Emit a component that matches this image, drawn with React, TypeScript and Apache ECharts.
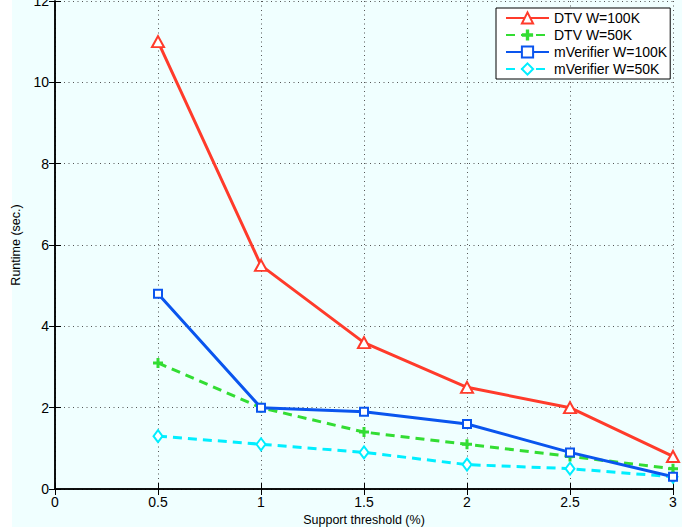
import React, { useEffect, useRef } from 'react';
import * as echarts from 'echarts';

const xValues = [0.5, 1, 1.5, 2, 2.5, 3];
const dtv100 = [11, 5.5, 3.6, 2.5, 2.0, 0.8];
const dtv50 = [3.1, 2.0, 1.4, 1.1, 0.8, 0.5];
const mv100 = [4.8, 2.0, 1.9, 1.6, 0.9, 0.3];
const mv50 = [1.3, 1.1, 0.9, 0.6, 0.5, 0.3];
const seriesNames = ['DTV W=100K', 'DTV W=50K', 'mVerifier W=100K', 'mVerifier W=50K'];

const FONT = 'Liberation Sans, Arial, Helvetica, sans-serif';
const RED = '#ff3b2b';
const GREEN = '#33dd33';
const BLUE = '#0a55ee';
const CYAN = '#00eeff';
const PLUS = 'path://M3.5,0H6.5V3.5H10V6.5H6.5V10H3.5V6.5H0V3.5H3.5Z';

const pairs = (ys: number[]) => xValues.map((x, i) => [x, ys[i]]);

export default function App() {
  const ref = useRef<HTMLDivElement>(null);
  useEffect(() => {
    if (!ref.current) return;
    const chart = echarts.init(ref.current, undefined, { renderer: 'svg' });
    const gridSplit = { show: true, lineStyle: { color: '#555', width: 1, type: [1, 3.5] as any } };
    const axisLine = { show: true, lineStyle: { color: '#000', width: 1.5 } };
    const tick = { show: true, inside: true, length: 6, lineStyle: { color: '#000', width: 1 } };
    const lbl = { color: '#000', fontSize: 14, fontFamily: FONT };
    chart.setOption({
      animation: false,
      backgroundColor: '#ffffff',
      graphic: [
        {
          type: 'rect',
          z: -100,
          silent: true,
          shape: { x: 12, y: 0, width: 670, height: 527 },
          style: { fill: '#f0ffff' },
        },
      ],
      grid: { left: 55, right: 22, top: 1, bottom: 40, containLabel: false, outerBoundsMode: 'none' },
      legend: {
        orient: 'vertical',
        left: 496,
        top: 8,
        width: 171,
        backgroundColor: '#ffffff',
        borderColor: '#000',
        borderWidth: 1,
        padding: [3, 3, 3, 9],
        itemGap: 3,
        itemWidth: 43,
        itemHeight: 14,
        textStyle: { color: '#000', fontSize: 14, fontFamily: FONT },
        data: seriesNames,
      },
      xAxis: [
        {
          type: 'value',
          min: 0,
          max: 3,
          interval: 0.5,
          name: 'Support threshold (%)',
          nameLocation: 'middle',
          nameGap: 17,
          nameTextStyle: { color: '#000', fontSize: 12.5, fontFamily: FONT },
          axisLine,
          axisTick: tick,
          axisLabel: { ...lbl, margin: 6, formatter: (v: number) => String(v) },
          splitLine: gridSplit,
        },
        {
          type: 'value',
          position: 'top',
          min: 0,
          max: 3,
          interval: 0.5,
          axisLine,
          axisTick: tick,
          axisLabel: { show: false },
          splitLine: { show: false },
        },
      ],
      yAxis: [
        {
          type: 'value',
          min: 0,
          max: 12,
          interval: 2,
          name: 'Runtime (sec.)',
          nameLocation: 'middle',
          nameGap: 23,
          nameTextStyle: { color: '#000', fontSize: 12.5, fontFamily: FONT },
          axisLine,
          axisTick: tick,
          axisLabel: { ...lbl, margin: 6 },
          splitLine: gridSplit,
        },
        {
          type: 'value',
          position: 'right',
          min: 0,
          max: 12,
          interval: 2,
          axisLine,
          axisTick: tick,
          axisLabel: { show: false },
          splitLine: { show: false },
        },
      ],
      series: [
        {
          name: seriesNames[3],
          type: 'line',
          data: pairs(mv50),
          symbol: 'emptyDiamond',
          symbolSize: [9, 12],
          color: CYAN,
          lineStyle: { color: CYAN, width: 3, type: [9, 6] },
          itemStyle: { color: CYAN, borderWidth: 2.5 },
        },
        {
          name: seriesNames[1],
          type: 'line',
          data: pairs(dtv50),
          symbol: PLUS,
          symbolSize: 10,
          color: GREEN,
          lineStyle: { color: GREEN, width: 3, type: [9, 6] },
          itemStyle: { color: GREEN },
        },
        {
          name: seriesNames[2],
          type: 'line',
          data: pairs(mv100),
          symbol: 'emptyRect',
          symbolSize: 8,
          color: BLUE,
          lineStyle: { color: BLUE, width: 3 },
          itemStyle: { color: BLUE, borderWidth: 2.5 },
        },
        {
          name: seriesNames[0],
          type: 'line',
          data: pairs(dtv100),
          symbol: 'emptyTriangle',
          symbolSize: [12, 11],
          color: RED,
          lineStyle: { color: RED, width: 3 },
          itemStyle: { color: RED, borderWidth: 2.5 },
        },
      ],
    });
    return () => chart.dispose();
  }, []);
  return (
    <div
      ref={ref}
      style={{ position: 'fixed', left: 0, top: 0, width: 695, height: 529 }}
    />
  );
}
